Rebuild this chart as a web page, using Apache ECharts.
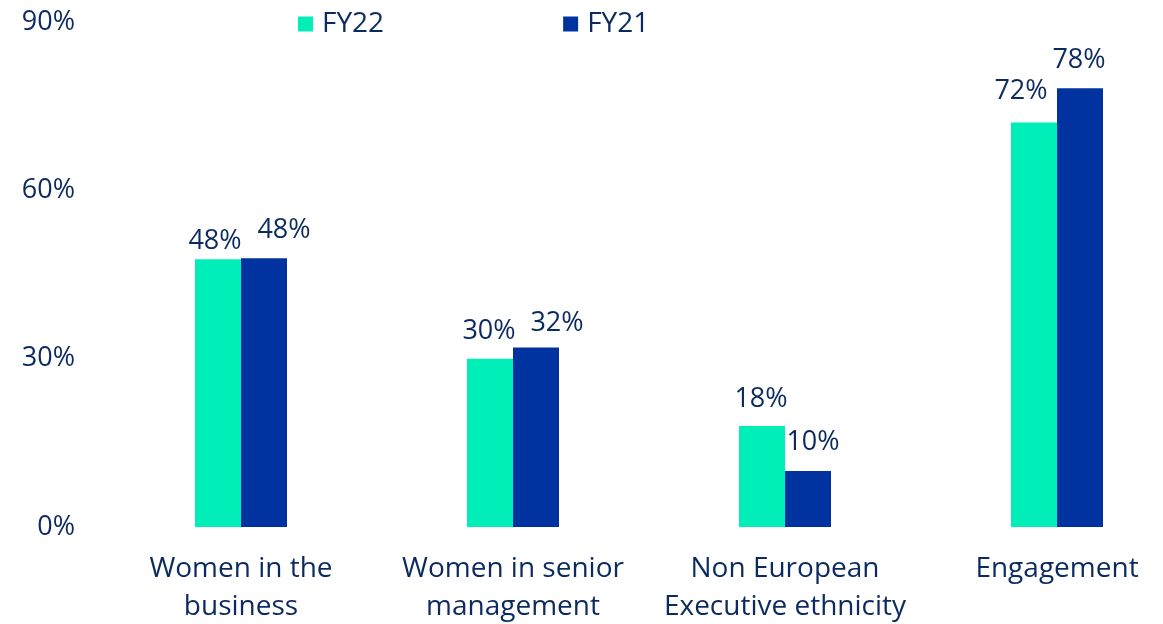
<!DOCTYPE html>
<html>
<head>
<meta charset="utf-8">
<script src="https://cdn.jsdelivr.net/npm/echarts@6/dist/echarts.min.js"></script>
<style>
  html, body { margin: 0; padding: 0; background: #fff; }
  #chart { width: 1163px; height: 624px; }
</style>
</head>
<body>
<div id="chart"></div>
<script>
// data
var categories = ['Women in the\nbusiness', 'Women in senior\nmanagement', 'Non European\nExecutive ethnicity', 'Engagement'];
var fy22 = [47.7, 30.0, 18.0, 72.1];
var fy21 = [47.9, 32.0, 10.0, 78.2];
var yTicks = [0, 30, 60, 90];

// label nudges (excel moved a few of them to avoid overlap)
var fy22Offsets = [[-3, 9], [-1, 0], [-1, 1], [-13, -4]];
var fy21Offsets = [[20, 0], [21, 3], [5, -1], [-1, 0]];

var navy = '#0b2a5f';
var font = 'Open Sans';

var chart = echarts.init(document.getElementById('chart'));

function barData(values, offsets) {
  return values.map(function (v, i) {
    return { value: v, label: { offset: offsets[i] } };
  });
}

function valueLabel() {
  return {
    show: true,
    position: 'top',
    distance: 14,
    color: navy,
    fontSize: 27,
    formatter: function (p) { return Math.round(p.value) + '%'; }
  };
}

var option = {
  textStyle: { fontFamily: font },
  legend: {
    left: 298,
    top: 10,
    padding: 0,
    itemWidth: 15,
    itemHeight: 15,
    itemGap: 179,
    icon: 'rect',
    textStyle: { color: navy, fontSize: 28, fontFamily: font, padding: [0, 0, 0, 4] },
    data: ['FY22', 'FY21']
  },
  grid: {
    left: 105,
    right: -30,
    top: 22,
    bottom: 97,
    outerBoundsMode: 'none'
  },
  xAxis: {
    type: 'category',
    data: categories,
    axisLine: { show: false },
    axisTick: { show: false },
    axisLabel: {
      color: navy,
      fontSize: 28,
      lineHeight: 38,
      margin: 23,
      interval: 0
    }
  },
  yAxis: {
    type: 'value',
    min: yTicks[0],
    max: yTicks[yTicks.length - 1],
    interval: 30,
    splitLine: { show: false },
    axisLine: { show: false },
    axisTick: { show: false },
    axisLabel: {
      color: navy,
      fontSize: 27,
      margin: 30,
      formatter: '{value}%'
    }
  },
  series: [
    {
      name: 'FY22',
      type: 'bar',
      data: barData(fy22, fy22Offsets),
      barWidth: 46,
      barGap: '0%',
      itemStyle: { color: '#00eeb8' },
      label: valueLabel()
    },
    {
      name: 'FY21',
      type: 'bar',
      data: barData(fy21, fy21Offsets),
      barWidth: 46,
      itemStyle: { color: '#0033a0' },
      label: valueLabel()
    }
  ]
};

chart.setOption(option);
</script>
</body>
</html>
